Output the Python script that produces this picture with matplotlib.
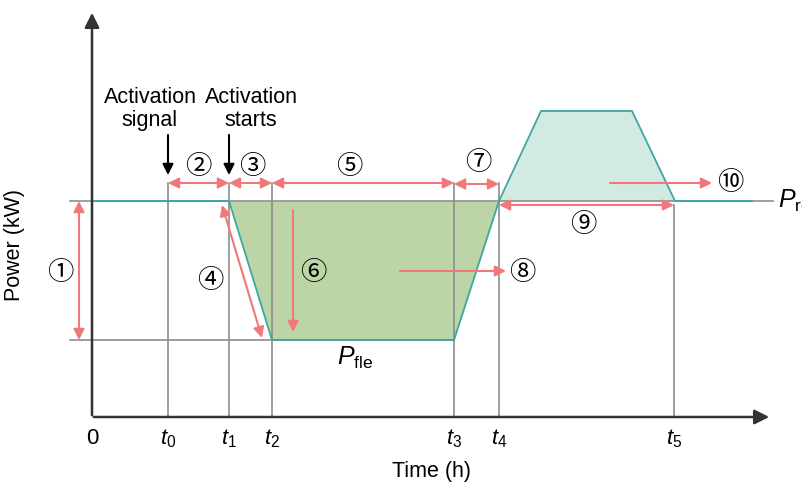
import matplotlib
matplotlib.use('Agg')
import matplotlib.pyplot as plt

plt.rcParams['font.family'] = ['Liberation Sans', 'DejaVu Sans']
plt.rcParams['mathtext.fontset'] = 'custom'
plt.rcParams['mathtext.rm'] = 'Liberation Sans'
plt.rcParams['mathtext.it'] = 'Liberation Sans:italic'

# time marks (h, arbitrary units) and power levels (kW, arbitrary units)
tick_labels = ['0', '$t_0$', '$t_1$', '$t_2$', '$t_3$', '$t_4$', '$t_5$']
tick_times = [0, 0.76, 1.37, 1.80, 3.62, 4.07, 5.82]
p_ref = 2.16
p_fle = 0.77

# power profile
curve_t = [0, 1.37, 1.80, 3.62, 4.07, 4.49, 5.40, 5.83, 6.60]
curve_p = [2.16, 2.16, 0.77, 0.77, 2.16, 3.06, 3.06, 2.16, 2.16]

RED = '#f0787a'
GRAY = '#8e8e8e'
TEAL = '#3da7a0'

fig = plt.figure(figsize=(8.03, 4.88), dpi=100)
ax = fig.add_axes([0, 0, 1, 1])
ax.set_xlim(-0.92, 7.11)
ax.set_ylim(-0.71, 4.17)
ax.axis('off')

# fills
ax.fill_between(curve_t[1:5], curve_p[1:5], p_ref, color='#bcd5a6', lw=0)
ax.fill_between(curve_t[4:8], curve_p[4:8], p_ref, color='#d3eae2', lw=0)

# reference lines
ax.plot([-0.22, 6.81], [p_ref, p_ref], color=GRAY, lw=1.2)
ax.plot([-0.22, tick_times[4]], [p_fle, p_fle], color=GRAY, lw=1.2)
for t in tick_times[1:6]:
    ax.plot([t, t], [0, 2.34], color=GRAY, lw=1.2)
ax.plot([tick_times[6]] * 2, [0, 2.12], color=GRAY, lw=1.2)

ax.plot(curve_t, curve_p, color=TEAL, lw=1.3)

# axes with arrows
ax.annotate('', xy=(0, 4.07), xytext=(0, -0.01),
            arrowprops=dict(arrowstyle='-|>', color='#333333', lw=1.8, mutation_scale=22))
ax.annotate('', xy=(6.80, 0), xytext=(-0.01, 0),
            arrowprops=dict(arrowstyle='-|>', color='#333333', lw=1.8, mutation_scale=22))


def red_arrow(p1, p2, style='<|-|>'):
    ax.annotate('', xy=p2, xytext=p1,
                arrowprops=dict(arrowstyle=style, color=RED, lw=1.5,
                                mutation_scale=16, shrinkA=0, shrinkB=0))


red_arrow((-0.13, p_ref), (-0.13, p_fle))
red_arrow((tick_times[1], 2.34), (tick_times[2], 2.34))
red_arrow((tick_times[2], 2.34), (tick_times[3], 2.34))
red_arrow((tick_times[3], 2.34), (tick_times[4], 2.34))
red_arrow((tick_times[4], 2.33), (tick_times[5], 2.33))
red_arrow((tick_times[5], 2.12), (tick_times[6], 2.12))
red_arrow((1.30, 2.12), (1.70, 0.79))
red_arrow((2.01, 2.07), (2.01, 0.85), '-|>')
red_arrow((3.08, 1.46), (4.14, 1.46), '-|>')
red_arrow((5.18, 2.34), (6.20, 2.34), '-|>')

labels = {'①': (-0.32, 1.45), '②': (1.06, 2.50), '③': (1.60, 2.50),
          '④': (1.18, 1.37), '⑤': (2.57, 2.50), '⑥': (2.21, 1.45),
          '⑦': (3.86, 2.54), '⑧': (4.30, 1.45), '⑨': (4.91, 1.93),
          '⑩': (6.38, 2.34)}
for s, (x, y) in labels.items():
    ax.text(x, y, s, fontsize=19, ha='center', va='center',
            family=['Noto Sans CJK JP', 'DejaVu Sans'])

# activation arrows
for t in tick_times[1:3]:
    ax.annotate('', xy=(t, 2.42), xytext=(t, 2.82),
                arrowprops=dict(arrowstyle='-|>', color='black', lw=1.5,
                                mutation_scale=16, shrinkA=0, shrinkB=0))
ax.text(0.58, 3.08, 'Activation\nsignal', fontsize=15.5, ha='center', va='center', linespacing=1.1)
ax.text(1.59, 3.08, 'Activation\nstarts', fontsize=15.5, ha='center', va='center', linespacing=1.1)

# tick labels
for t, lab in zip(tick_times, tick_labels):
    ax.text(t, -0.22, lab, fontsize=16, ha='center', va='center')

ax.text(3.40, -0.54, 'Time (h)', fontsize=15.5, ha='center', va='center')
ax.text(-0.77, 1.72, 'Power (kW)', fontsize=15.5, ha='center', va='center', rotation=90)
ax.text(6.86, p_ref, r'$P_{\mathrm{ref}}$', fontsize=18, ha='left', va='center')
ax.text(2.63, 0.59, r'$P_{\mathrm{fle}}$', fontsize=18, ha='center', va='center')

fig.savefig('out.png', dpi=100)
